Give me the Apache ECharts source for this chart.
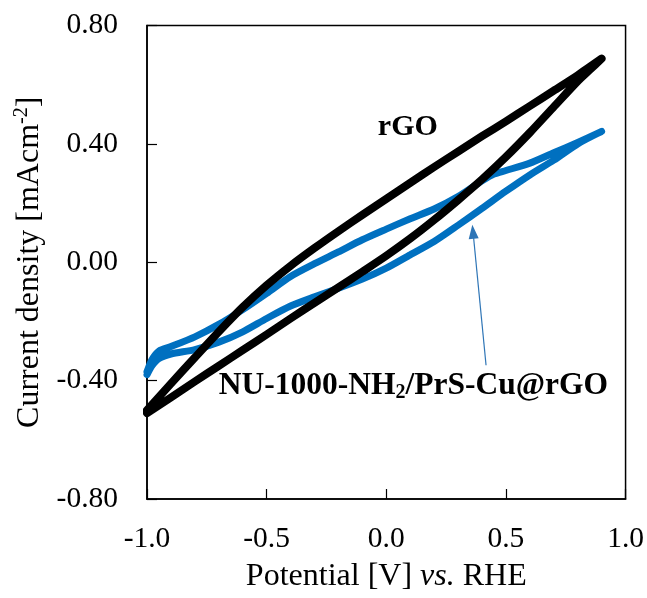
<!DOCTYPE html>
<html>
<head>
<meta charset="utf-8">
<script src="https://cdn.jsdelivr.net/npm/echarts@6/dist/echarts.min.js"></script>
<style>
html,body{margin:0;padding:0;background:#fff;}
#chart{width:647px;height:598px;}
</style>
</head>
<body>
<div id="chart"></div>
<script>
// ---- data ----
// rGO: anodic sweep (-1.0 -> 0.9) then cathodic sweep (0.9 -> -1.0)
const rgoAnodicX = [-1.0,-0.9,-0.8,-0.7,-0.6,-0.5,-0.4,-0.3,-0.2,-0.1,0.0,0.1,0.2,0.3,0.4,0.5,0.6,0.7,0.8,0.9];
const rgoAnodicY = [-0.50,-0.41,-0.322,-0.235,-0.152,-0.078,-0.012,0.048,0.105,0.16,0.214,0.268,0.322,0.374,0.426,0.476,0.528,0.58,0.632,0.688];
const rgoCathodicX = [0.9,0.85,0.8,0.7,0.6,0.5,0.4,0.3,0.2,0.1,0.0,-0.1,-0.2,-0.3,-0.4,-0.5,-0.6,-0.7,-0.8,-0.9,-1.0];
const rgoCathodicY = [0.688,0.65,0.612,0.525,0.438,0.356,0.28,0.21,0.143,0.08,0.022,-0.032,-0.085,-0.137,-0.19,-0.244,-0.297,-0.35,-0.403,-0.457,-0.51];

// NU-1000-NH2/PrS-Cu@rGO
const nuAnodicX = [-1.0,-0.98,-0.95,-0.9,-0.8,-0.7,-0.6,-0.5,-0.4,-0.3,-0.2,-0.1,0.0,0.1,0.2,0.3,0.4,0.45,0.5,0.6,0.7,0.8,0.9];
const nuAnodicY = [-0.37,-0.33,-0.30,-0.285,-0.252,-0.21,-0.16,-0.105,-0.048,-0.005,0.035,0.076,0.112,0.147,0.18,0.222,0.275,0.298,0.31,0.335,0.37,0.405,0.442];
const nuCathodicX = [0.9,0.8,0.7,0.6,0.5,0.4,0.3,0.2,0.1,0.0,-0.1,-0.2,-0.3,-0.4,-0.5,-0.6,-0.7,-0.8,-0.9,-0.95,-0.98,-1.0];
const nuCathodicY = [0.442,0.40,0.345,0.295,0.24,0.182,0.125,0.07,0.025,-0.02,-0.057,-0.088,-0.117,-0.148,-0.19,-0.235,-0.27,-0.295,-0.31,-0.325,-0.35,-0.38];

// axes
const xTicks = [-1.0, -0.5, 0.0, 0.5, 1.0];
const yTicks = [-0.80, -0.40, 0.00, 0.40, 0.80];

// annotations (data coordinates)
const rgoLabelAt = [0.09, 0.455];
const nuLabelAt = [0.113, -0.416];
const arrowFrom = [0.417, -0.348];
const arrowTo = [0.3625, 0.103];

// ---- build ----
function pairs(xs, ys){ return xs.map((x,i)=>[x, ys[i]]); }
const rgoData = pairs(rgoAnodicX, rgoAnodicY).concat(pairs(rgoCathodicX, rgoCathodicY).slice(1));
const nuData = pairs(nuAnodicX, nuAnodicY).concat(pairs(nuCathodicX, nuCathodicY).slice(1));

const FONT = '"Liberation Serif","Times New Roman",serif';
const BLUE = '#0070C0';
const FS = 29.5;
const NFS = 32;

const chart = echarts.init(document.getElementById('chart'), null, {renderer:'canvas'});
chart.setOption({
  animation: false,
  backgroundColor: '#fff',
  grid: {left:147, right:20, top:25.5, bottom:96, show:true, borderColor:'#000', borderWidth:1.5, backgroundColor:'transparent'},
  xAxis: {
    type:'value', min:xTicks[0], max:xTicks[xTicks.length-1], interval:0.5,
    axisLine:{show:true, onZero:false, lineStyle:{color:'#000', width:1.5}},
    axisTick:{show:true, inside:true, length:10, lineStyle:{color:'#000', width:1.2}},
    splitLine:{show:false},
    axisLabel:{margin:25, fontFamily:FONT, fontSize:FS, color:'#000', formatter:v=>v.toFixed(1)},
    name:'{n|Potential [V] }{i|vs.}{n| RHE}', nameLocation:'middle', nameGap:62,
    nameTextStyle:{rich:{n:{fontFamily:FONT, fontSize:NFS, color:'#000'}, i:{fontFamily:FONT, fontSize:NFS, fontStyle:'italic', color:'#000'}}}
  },
  yAxis: {
    type:'value', min:yTicks[0], max:yTicks[yTicks.length-1], interval:0.4,
    axisLine:{show:true, onZero:false, lineStyle:{color:'#000', width:1.5}},
    axisTick:{show:true, inside:true, length:10, lineStyle:{color:'#000', width:1.2}},
    splitLine:{show:false},
    axisLabel:{margin:29, fontFamily:FONT, fontSize:FS, color:'#000', formatter:v=>v.toFixed(2)},
    name:'{n|Current density [mAcm}{s|-2}{n|]}', nameLocation:'middle', nameGap:100,
    nameTextStyle:{rich:{n:{fontFamily:FONT, fontSize:NFS, color:'#000'}, s:{fontFamily:FONT, fontSize:20, color:'#000', verticalAlign:'top', padding:[0,0,15,0]}}}
  },
  series: [
    {
      name:'rGO', type:'line', data:rgoData, smooth:0.25, showSymbol:false, z:3,
      lineStyle:{color:'#000', width:8, cap:'round', join:'round'},
      markPoint:{silent:true, symbol:'circle', symbolSize:0,
        data:[{coord:rgoLabelAt, value:'rGO'}],
        label:{show:true, position:'inside', formatter:'rGO', fontFamily:FONT, fontWeight:'bold', fontSize:30, color:'#000'}}
    },
    {
      name:'NU-1000-NH2/PrS-Cu@rGO', type:'line', data:nuData, smooth:0.25, showSymbol:false, z:2,
      lineStyle:{color:BLUE, width:7, cap:'round', join:'round'},
      markPoint:{silent:true, symbol:'circle', symbolSize:0,
        data:[{coord:nuLabelAt, value:1}],
        label:{show:true, position:'inside', formatter:'{b|NU-1000-NH}{s|2}{b|/PrS-Cu@rGO}',
          rich:{b:{fontFamily:FONT, fontWeight:'bold', fontSize:31.5, color:'#000'}, s:{fontFamily:FONT, fontWeight:'bold', fontSize:20, color:'#000', padding:[14,0,0,0]}}}},
      markLine:{silent:true, symbol:['none','triangle'], symbolSize:[10,14],
        lineStyle:{color:'#2E75B6', width:1.2, type:'solid'}, label:{show:false},
        data:[[{coord:arrowFrom},{coord:arrowTo}]]}
    }
  ]
});
</script>
</body>
</html>
